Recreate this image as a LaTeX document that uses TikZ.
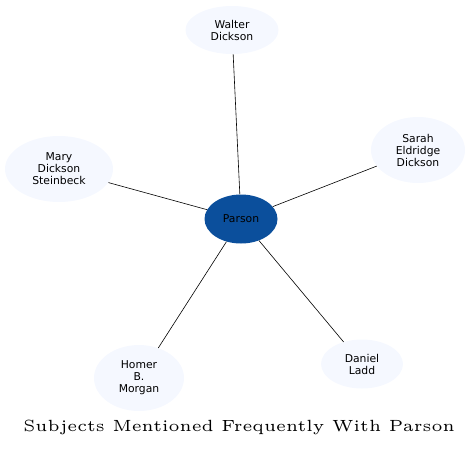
\documentclass[tikz,border=0pt]{standalone}
\usepackage{fontspec}
\newfontfamily\nodefont{DejaVu Sans}
\newfontfamily\titlefont{lmroman5-regular.otf}
\usetikzlibrary{shapes.geometric}
\definecolor{leaf}{HTML}{F5F8FF}
\definecolor{hub}{HTML}{0B4F9C}
\tikzset{
  person/.style={ellipse, draw=none, fill=leaf, inner sep=0pt, align=center,
    font=\nodefont\fontsize{10.8}{12}\selectfont},
  center/.style={person, fill=hub},
  link/.style={draw=black, line width=0.6pt},
  title/.style={font=\titlefont\fontsize{16.2}{19}\selectfont},
}

\begin{document}
\begin{tikzpicture}[x=1pt,y=-1pt]
\useasboundingbox (0,0) rectangle (471,448);
% subjects
\node[center, minimum width=73, minimum height=49] (parson) at (241,219) {Parson};
\node[person, minimum width=93, minimum height=48] (walter) at (232,30) {Walter\\Dickson};
\node[person, minimum width=94, minimum height=66] (sarah) at (418,150) {Sarah\\Eldridge\\Dickson};
\node[person, minimum width=108, minimum height=66] (mary) at (59,169) {Mary\\Dickson\\Steinbeck};
\node[person, minimum width=90, minimum height=66] (homer) at (139,378) {Homer\\B.\\Morgan};
\node[person, minimum width=82, minimum height=49] (daniel) at (362,364) {Daniel\\Ladd};
% links
\foreach \n in {walter,sarah,mary,homer,daniel}
  \draw[link] (parson) -- (\n);
\node[title] (caption) at (239,427) {Subjects Mentioned Frequently With Parson};
\end{tikzpicture}
\end{document}
